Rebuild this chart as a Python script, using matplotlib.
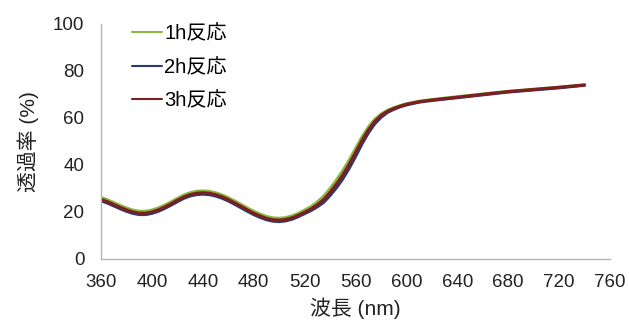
import numpy as np
import matplotlib
matplotlib.use('Agg')
import matplotlib.pyplot as plt

plt.rcParams['font.family'] = ['Liberation Sans', 'Noto Sans CJK JP', 'DejaVu Sans']

# wavelength (nm)
wl = list(range(360, 601, 5)) + [610, 620, 640, 660, 680, 700, 720, 740]

# transmittance (%)
t_1h = [26.1, 25.1, 23.9, 22.7, 21.6, 20.7, 20.2, 20.2, 20.7, 21.6,
        22.8, 24.2, 25.7, 27.1, 28.1, 28.7, 28.9, 28.7, 28.1, 27.2,
        26.0, 24.6, 23.1, 21.6, 20.2, 19.0, 18.0, 17.4, 17.2, 17.5,
        18.2, 19.3, 20.7, 22.2, 24.2, 26.6, 29.9, 33.5, 37.5, 42.0,
        46.9, 51.8, 56.0, 59.3, 61.6, 63.2, 64.3, 65.2, 66.0,
        67.1, 67.8, 69.0, 70.2, 71.3, 72.2, 73.1, 74.1]
t_2h = [24.7, 23.7, 22.5, 21.3, 20.2, 19.3, 18.8, 18.8, 19.3, 20.2,
        21.4, 22.8, 24.3, 25.7, 26.7, 27.3, 27.5, 27.3, 26.7, 25.8,
        24.6, 23.2, 21.7, 20.2, 18.8, 17.6, 16.6, 16.0, 15.8, 16.1,
        16.8, 17.9, 19.2, 20.5, 22.1, 24.0, 26.9, 30.2, 34.0, 38.5,
        43.5, 48.8, 53.5, 57.4, 60.2, 62.3, 63.6, 64.7, 65.5,
        66.7, 67.4, 68.6, 69.8, 71.0, 71.9, 72.8, 73.9]
t_3h = [25.3, 24.3, 23.1, 21.9, 20.8, 19.9, 19.4, 19.4, 19.9, 20.8,
        22.0, 23.4, 24.9, 26.3, 27.3, 27.9, 28.1, 27.9, 27.3, 26.4,
        25.2, 23.8, 22.3, 20.8, 19.4, 18.2, 17.2, 16.6, 16.4, 16.7,
        17.4, 18.5, 19.8, 21.2, 23.0, 25.2, 28.3, 31.8, 35.7, 40.2,
        45.2, 50.3, 54.8, 58.4, 61.0, 62.8, 64.0, 65.0, 65.8,
        66.9, 67.6, 68.8, 70.0, 71.2, 72.1, 73.0, 74.0]

labels = ['1h反応', '2h反応', '3h反応']
colors = ['#8DB640', '#2D3A6E', '#7E1F1F']

fig = plt.figure(figsize=(6.29, 3.22), dpi=100)
ax = fig.add_axes([0.1606, 0.1966, 0.8092, 0.7289])

for ys, lab, c in zip([t_1h, t_2h, t_3h], labels, colors):
    ax.plot(wl, ys, color=c, lw=2.2, label=lab, solid_capstyle='round',
            solid_joinstyle='round')

ax.set_xlim(360, 760)
ax.set_ylim(0, 100)
ax.set_xticks(np.arange(360, 761, 40))
ax.set_yticks(np.arange(0, 101, 20))
ax.tick_params(length=0, labelsize=13.5, colors='#222222')
ax.tick_params(axis='x', pad=11)
ax.tick_params(axis='y', pad=12)
for s in ['top', 'right']:
    ax.spines[s].set_visible(False)
for s in ['left', 'bottom']:
    ax.spines[s].set_color('#b5b5b5')
    ax.spines[s].set_linewidth(1.0)

ax.set_ylabel('透過率 (%)', fontsize=15, color='#222222', labelpad=10)
ax.set_xlabel('波長 (nm)', fontsize=15, color='#222222', labelpad=5)

leg = ax.legend(loc='upper left', bbox_to_anchor=(0.025, 1.075), frameon=False,
                fontsize=14.5, handlelength=1.5, handletextpad=0.1,
                labelspacing=0.72)
for h in leg.get_lines():
    h.set_linewidth(1.5)

fig.savefig('out.png', dpi=100)
